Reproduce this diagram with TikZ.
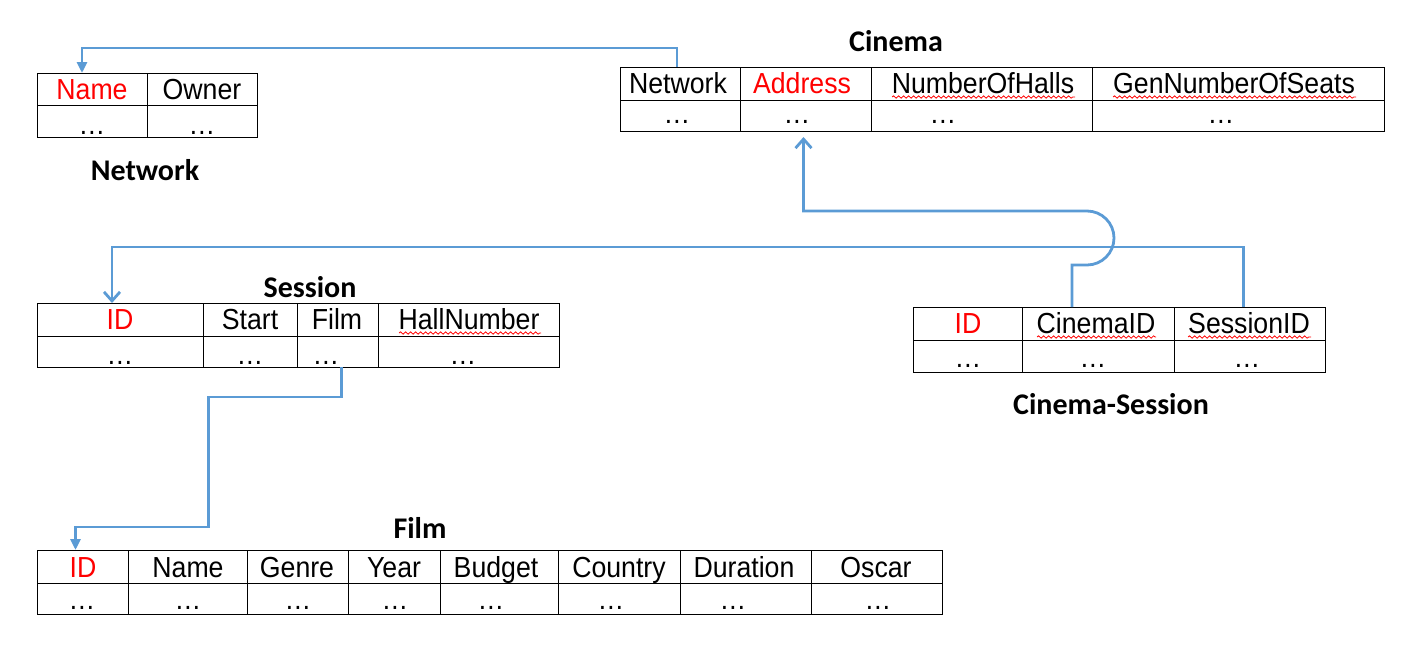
\documentclass[tikz,border=0pt]{standalone}
\usepackage{fontspec}
\setmainfont{Liberation Sans}[FakeStretch=0.92]
\newfontfamily\titlefont{Carlito}
\usetikzlibrary{fit,arrows.meta,decorations.pathmorphing}
\definecolor{fkblue}{HTML}{5B9BD5}
\definecolor{keyred}{HTML}{FF0000}
\begin{document}
\begin{tikzpicture}[x=1pt,y=-1pt,
 every node/.style={font=\fontsize{29pt}{34pt}\selectfont},
 cell/.style={draw, line width=1pt, inner sep=0pt, outer sep=0pt},
 txt/.style={anchor=base, inner sep=0pt},
 key/.style={txt, text=keyred},
 title/.style={anchor=base, inner sep=0pt, font=\titlefont\bfseries\fontsize{30pt}{36pt}\selectfont},
 fk/.style={draw=fkblue, line width=2.8pt},
 spell/.style={draw=red, line width=0.8pt, decorate, decoration={snake, amplitude=1.2pt, segment length=5pt}}
]
\useasboundingbox (0,0) rectangle (1410,665);

% ---------- Network ----------
\node[cell,fit={(37,73)(147,105)}] (nw-name) {};
\node[cell,fit={(147,73)(257,105)}] (nw-owner) {};
\node[cell,fit={(37,105)(147,137)}] (nw-name-v) {};
\node[cell,fit={(147,105)(257,137)}] (nw-owner-v) {};
\node[key] (nw-t1) at (92,99) {Name};
\node[txt] (nw-t2) at (202,99) {Owner};
\node[txt] (nw-d1) at (92,134) {…};
\node[txt] (nw-d2) at (202,134) {…};
\node[title] (t-network) at (145,180) {Network};

% ---------- Cinema ----------
\node[title] (t-cinema) at (896,51) {Cinema};
\node[cell,fit={(620,67)(740,100)}] (cin-net) {};
\node[cell,fit={(740,67)(871,100)}] (cin-addr) {};
\node[cell,fit={(871,67)(1092,100)}] (cin-halls) {};
\node[cell,fit={(1092,67)(1384,100)}] (cin-seats) {};
\node[cell,fit={(620,100)(740,131)}] (cin-net-v) {};
\node[cell,fit={(740,100)(871,131)}] (cin-addr-v) {};
\node[cell,fit={(871,100)(1092,131)}] (cin-halls-v) {};
\node[cell,fit={(1092,100)(1384,131)}] (cin-seats-v) {};
\node[txt] (cin-t1) at (678,93) {Network};
\node[key] (cin-t2) at (802,93) {Address};
\node[txt] (cin-t3) at (983,93) {NumberOfHalls};
\node[txt] (cin-t4) at (1234,93) {GenNumberOfSeats};
\node[txt] (cin-d1) at (677,123) {…};
\node[txt] (cin-d2) at (797,123) {…};
\node[txt] (cin-d3) at (943,123) {…};
\node[txt] (cin-d4) at (1221,123) {…};
\draw[spell] (892,97) -- (1075,97);
\draw[spell] (1113,97) -- (1356,97);

% ---------- Session ----------
\node[title] (t-session) at (310,297) {Session};
\node[cell,fit={(37,303)(203,336)}] (ses-id) {};
\node[cell,fit={(203,303)(297,336)}] (ses-start) {};
\node[cell,fit={(297,303)(378,336)}] (ses-film) {};
\node[cell,fit={(378,303)(559,336)}] (ses-hall) {};
\node[cell,fit={(37,336)(203,367)}] (ses-id-v) {};
\node[cell,fit={(203,336)(297,367)}] (ses-start-v) {};
\node[cell,fit={(297,336)(378,367)}] (ses-film-v) {};
\node[cell,fit={(378,336)(559,367)}] (ses-hall-v) {};
\node[key] (ses-t1) at (120,329) {ID};
\node[txt] (ses-t2) at (250,329) {Start};
\node[txt] (ses-t3) at (337,329) {Film};
\node[txt] (ses-t4) at (469,329) {HallNumber};
\node[txt] (ses-d1) at (120,364) {…};
\node[txt] (ses-d2) at (250,364) {…};
\node[txt] (ses-d3) at (326,364) {…};
\node[txt] (ses-d4) at (463,364) {…};
\draw[spell] (399,333) -- (541,333);

% ---------- Cinema-Session ----------
\node[cell,fit={(913,307)(1022,340)}] (cs-id) {};
\node[cell,fit={(1022,307)(1174,340)}] (cs-cin) {};
\node[cell,fit={(1174,307)(1325,340)}] (cs-ses) {};
\node[cell,fit={(913,340)(1022,372)}] (cs-id-v) {};
\node[cell,fit={(1022,340)(1174,372)}] (cs-cin-v) {};
\node[cell,fit={(1174,340)(1325,372)}] (cs-ses-v) {};
\node[key] (cs-t1) at (968,333) {ID};
\node[txt] (cs-t2) at (1096,333) {CinemaID};
\node[txt] (cs-t3) at (1249,333) {SessionID};
\node[txt] (cs-d1) at (968,367) {…};
\node[txt] (cs-d2) at (1093,367) {…};
\node[txt] (cs-d3) at (1247,367) {…};
\node[title] (t-cs) at (1111,414) {Cinema-Session};
\draw[spell] (1037,337) -- (1156,337);
\draw[spell] (1188,337) -- (1311,337);

% ---------- Film ----------
\node[title] (t-film) at (420,538) {Film};
\node[cell,fit={(37,550)(128,583)}] (film-id) {};
\node[cell,fit={(128,550)(247,583)}] (film-name) {};
\node[cell,fit={(247,550)(348,583)}] (film-genre) {};
\node[cell,fit={(348,550)(440,583)}] (film-year) {};
\node[cell,fit={(440,550)(558,583)}] (film-budget) {};
\node[cell,fit={(558,550)(680,583)}] (film-country) {};
\node[cell,fit={(680,550)(811,583)}] (film-dur) {};
\node[cell,fit={(811,550)(942,583)}] (film-oscar) {};
\node[cell,fit={(37,583)(128,614)}] (film-id-v) {};
\node[cell,fit={(128,583)(247,614)}] (film-name-v) {};
\node[cell,fit={(247,583)(348,614)}] (film-genre-v) {};
\node[cell,fit={(348,583)(440,614)}] (film-year-v) {};
\node[cell,fit={(440,583)(558,614)}] (film-budget-v) {};
\node[cell,fit={(558,583)(680,614)}] (film-country-v) {};
\node[cell,fit={(680,583)(811,614)}] (film-dur-v) {};
\node[cell,fit={(811,583)(942,614)}] (film-oscar-v) {};
\node[key] (film-t1) at (83,577) {ID};
\node[txt] (film-t2) at (188,577) {Name};
\node[txt] (film-t3) at (297,577) {Genre};
\node[txt] (film-t4) at (394,577) {Year};
\node[txt] (film-t5) at (496,577) {Budget};
\node[txt] (film-t6) at (619,577) {Country};
\node[txt] (film-t7) at (744,577) {Duration};
\node[txt] (film-t8) at (876,577) {Oscar};
\node[txt] (film-d1) at (82,609) {…};
\node[txt] (film-d2) at (188,609) {…};
\node[txt] (film-d3) at (298,609) {…};
\node[txt] (film-d4) at (395,609) {…};
\node[txt] (film-d5) at (491,609) {…};
\node[txt] (film-d6) at (611,609) {…};
\node[txt] (film-d7) at (733,609) {…};
\node[txt] (film-d8) at (878,609) {…};

% ---------- Connectors ----------
\draw[fk,-{Triangle[length=11pt,width=10pt]}]
  ([xshift=-3pt]cin-net.north) -- ++(0,-19) -| ([xshift=-10pt]nw-name.north);
\draw[fk,-{Straight Barb[length=9pt,width=16pt]}]
  ([xshift=-26pt]cs-cin.north) -- ++(0,-42) -- ++(15,0)
  arc[start angle=-90,end angle=90,radius=27pt]
  -| ([yshift=-6pt,xshift=-2pt]cin-addr-v.south);
\draw[fk,-{Straight Barb[length=9pt,width=16pt]}]
  ([xshift=-6pt]cs-ses.north) -- ++(0,-60) -| ([xshift=-8pt]ses-id.north);
\draw[fk,-{Triangle[length=11pt,width=10pt]}]
  ([xshift=4pt]ses-film-v.south) -- ++(0,30) -- ++(-133,0) -- ++(0,130)
  -| ([xshift=-7pt]film-id.north);
\end{tikzpicture}
\end{document}
